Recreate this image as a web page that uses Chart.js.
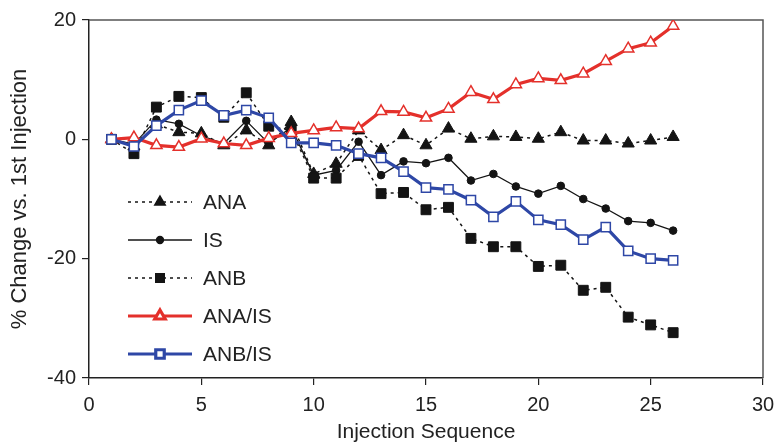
<!DOCTYPE html>
<html>
<head>
<meta charset="utf-8">
<script src="https://cdn.jsdelivr.net/npm/chart.js@4/dist/chart.umd.min.js"></script>
<style>
  html, body { margin: 0; padding: 0; background: #fff; }
  #wrap { width: 778px; height: 443px; }
</style>
</head>
<body>
<div id="wrap"><canvas id="chart" width="778" height="443"></canvas></div>
<script>
const injections = [1,2,3,4,5,6,7,8,9,10,11,12,13,14,15,16,17,18,19,20,21,22,23,24,25,26];
const xTicks = [0, 5, 10, 15, 20, 25, 30];
const yTicks = [-40, -20, 0, 20];

const ana = [0, -1.2, 2.5, 1.2, 1.0, -1.0, 1.5, -1.0, 2.9, -5.8, -4.1, 1.5, -1.8, 0.7, -1.0, 1.8, 0.1, 0.5, 0.4, 0.1, 1.2, -0.2, -0.2, -0.7, -0.2, 0.4];
const is = [0, -0.8, 3.3, 2.6, 0.6, -0.7, 3.1, -0.7, 2.0, -6.0, -5.2, -0.4, -6.0, -3.7, -4.0, -3.1, -6.9, -5.8, -7.9, -9.1, -7.8, -10.0, -11.6, -13.7, -14.0, -15.3];
const anb = [0, -2.4, 5.4, 7.2, 7.0, 3.7, 7.8, 2.2, 1.5, -6.5, -6.5, -2.7, -9.1, -8.9, -11.8, -11.4, -16.6, -18.0, -18.0, -21.3, -21.1, -25.3, -24.8, -29.8, -31.1, -32.4];
const anaIs = [0, 0.3, -1.0, -1.3, 0.1, -0.7, -1.0, 0.2, 1.0, 1.5, 2.0, 1.8, 4.7, 4.6, 3.6, 5.1, 7.9, 6.7, 9.2, 10.2, 9.9, 11.0, 13.1, 15.2, 16.2, 19.0];
const anbIs = [0, -1.2, 2.3, 4.9, 6.5, 4.0, 4.9, 3.6, -0.6, -0.6, -1.0, -2.4, -3.1, -5.4, -8.1, -8.4, -10.2, -13.0, -10.4, -13.5, -14.3, -16.8, -14.7, -18.7, -20.0, -20.3];

const RED = '#e4302b';
const BLUE = '#2e47a6';
const BLACK = '#141414';
const FONT = '"Liberation Sans", Arial, Helvetica, sans-serif';

const toPoints = (vals) => vals.map((v, i) => ({ x: injections[i], y: v }));

const seriesDefs = [
  { label: 'ANA', data: ana, color: BLACK, width: 1.5, dash: [3, 4], style: 'triangle', fill: BLACK, radius: 7, order: 4 },
  { label: 'IS', data: is, color: BLACK, width: 1.3, dash: [], style: 'circle', fill: BLACK, radius: 3.8, order: 3 },
  { label: 'ANB', data: anb, color: BLACK, width: 1.5, dash: [3, 4], style: 'rect', fill: BLACK, radius: 7, order: 2 },
  { label: 'ANA/IS', data: anaIs, color: RED, width: 3.2, dash: [], style: 'triangle', fill: '#fff', radius: 6.5, order: 1 },
  { label: 'ANB/IS', data: anbIs, color: BLUE, width: 3.2, dash: [], style: 'rect', fill: '#fff', radius: 6.5, order: 0 },
];

// frame around the plot + legend drawn inside the plot area
const framePlugin = {
  id: 'frame',
  beforeDatasetsDraw(chart) {
    const { ctx, chartArea: a } = chart;
    ctx.save();
    ctx.strokeStyle = '#555';
    ctx.lineWidth = 1.5;
    ctx.beginPath();
    ctx.moveTo(a.left, a.top);
    ctx.lineTo(a.right, a.top);
    ctx.lineTo(a.right, a.bottom);
    ctx.stroke();
    ctx.restore();
  },
  afterDraw(chart) {
    const { ctx } = chart;
    const x0 = 128, x1 = 192, xm = 160, tx = 203;
    const rows = [202, 240, 278, 316, 354];
    ctx.save();
    seriesDefs.forEach((s, i) => {
      const y = rows[i];
      ctx.strokeStyle = s.color;
      ctx.lineWidth = s.width;
      ctx.setLineDash(s.dash);
      ctx.beginPath();
      ctx.moveTo(x0, y);
      ctx.lineTo(x1, y);
      ctx.stroke();
      ctx.setLineDash([]);
      ctx.fillStyle = s.fill;
      ctx.strokeStyle = s.color;
      Chart.helpers.drawPoint(ctx, {
        pointStyle: s.style,
        radius: s.style === 'circle' ? 3.5 : 6,
        borderWidth: s.fill === '#fff' ? 1.5 : 1,
      }, xm, y);
      ctx.fillStyle = '#222';
      ctx.font = '21px ' + FONT;
      ctx.textBaseline = 'middle';
      ctx.fillText(s.label, tx, y + 1);
    });
    ctx.restore();
  },
};

new Chart(document.getElementById('chart'), {
  type: 'line',
  data: {
    datasets: seriesDefs.map((s) => ({
      label: s.label,
      data: toPoints(s.data),
      borderColor: s.color,
      borderWidth: s.width,
      borderDash: s.dash,
      pointStyle: s.style,
      pointRadius: s.radius,
      pointBackgroundColor: s.fill,
      pointBorderColor: s.color,
      pointBorderWidth: s.fill === '#fff' ? 1.5 : 1,
      tension: 0,
      fill: false,
      order: s.order,
    })),
  },
  options: {
    responsive: false,
    animation: false,
    layout: { padding: { top: 20, right: 15, left: 0, bottom: 0 } },
    plugins: {
      legend: { display: false },
      tooltip: { enabled: false },
    },
    scales: {
      x: {
        type: 'linear',
        min: 0,
        max: 30,
        afterFit: (s) => { s.height = 65; s.paddingLeft = 0; s.paddingRight = 0; },
        afterBuildTicks: (s) => { s.ticks = xTicks.map((v) => ({ value: v })); },
        grid: { drawOnChartArea: false, tickLength: 7, color: '#222', lineWidth: 1.2 },
        border: { display: true, color: '#222', width: 1.5 },
        ticks: { color: '#222', font: { family: FONT, size: 20 }, padding: 8, maxRotation: 0 },
        title: { display: true, text: 'Injection Sequence', color: '#222', font: { family: FONT, size: 21, lineHeight: 1 }, padding: 0 },
      },
      y: {
        min: -40,
        max: 20,
        afterFit: (s) => { s.width = 89; s.paddingTop = 0; s.paddingBottom = 0; },
        afterBuildTicks: (s) => { s.ticks = yTicks.map((v) => ({ value: v })); },
        grid: { drawOnChartArea: false, tickLength: 7, color: '#222', lineWidth: 1.2 },
        border: { display: true, color: '#222', width: 1.5 },
        ticks: { color: '#222', font: { family: FONT, size: 20 }, padding: 6 },
        title: { display: true, text: '% Change vs. 1st Injection', color: '#222', font: { family: FONT, size: 22, lineHeight: 1.8 }, padding: 0 },
      },
    },
  },
  plugins: [framePlugin],
});
</script>
</body>
</html>
